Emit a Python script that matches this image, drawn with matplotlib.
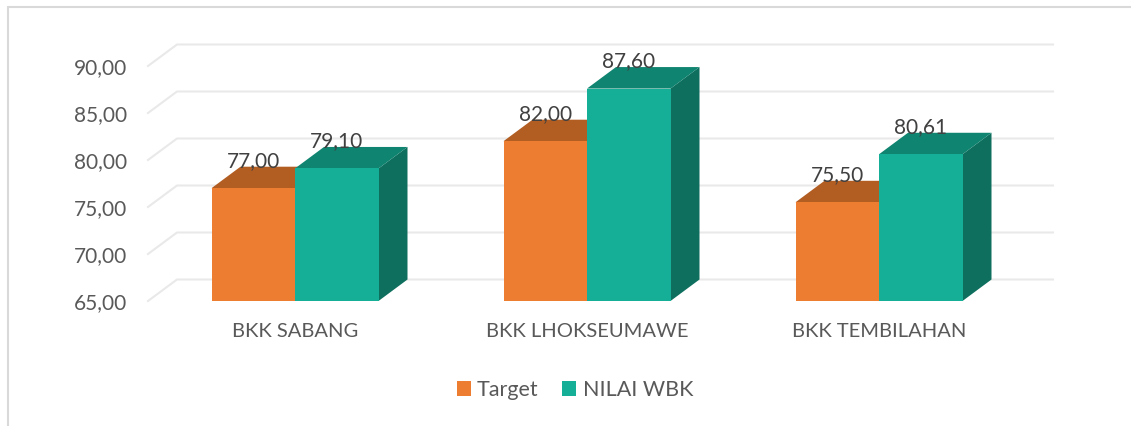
import matplotlib
matplotlib.use("Agg")
from matplotlib import pyplot as plt
import matplotlib.patches as patches

plt.rcParams['font.family'] = ['Lato', 'DejaVu Sans']

categories = ["BKK SABANG", "BKK LHOKSEUMAWE", "BKK TEMBILAHAN"]
series_names = ["Target", "NILAI WBK"]
target = [77.00, 82.00, 75.50]
nilai_wbk = [79.10, 87.60, 80.61]
yticks = [65, 70, 75, 80, 85, 90]

front_cols = ["#ED7D31", "#15AE96"]
top_cols = ["#B25D22", "#0F8470"]
side_cols = ["#B25D22", "#0E6F5E"]

W, H = 1131, 426
fig = plt.figure(figsize=(W / 100, H / 100), dpi=100)

# axes placed so that the front plane matches the reference
px_unit = 292.0   # pixels per category step
py_unit = 9.4     # pixels per value unit
left_px, right_px, bottom_px, top_px = 148, 1060, 301, 40
ax = fig.add_axes([left_px / W, (H - bottom_px) / H,
                   (right_px - left_px) / W, (bottom_px - top_px) / H])
x_lo = (left_px - 295) / px_unit
x_hi = (right_px - 295) / px_unit
y_lo = 65
y_hi = 65 + (bottom_px - top_px) / py_unit
ax.set_xlim(x_lo, x_hi)
ax.set_ylim(y_lo, y_hi)

dx = 29 / px_unit      # depth offset
dy = 21.5 / py_unit
bw = 83.5 / px_unit    # bar width

grid_c = "#E9E9E9"
back_right = (1053 - 295) / px_unit
for v in yticks:
    ax.plot([x_lo, x_lo + dx, back_right], [v, v + dy, v + dy],
            color=grid_c, lw=1.5, clip_on=False, zorder=0)

base = 65
for i in range(len(categories)):
    for j, vals in enumerate([target, nilai_wbk]):
        v = vals[i]
        x0 = i - bw + j * bw
        x1 = x0 + bw
        side = patches.Polygon([(x1, base), (x1 + dx, base + dy), (x1 + dx, v + dy), (x1, v)],
                               closed=True, fc=side_cols[j], ec='none', clip_on=False, zorder=2)
        top = patches.Polygon([(x0, v), (x0 + dx, v + dy), (x1 + dx, v + dy), (x1, v)],
                              closed=True, fc=top_cols[j], ec='none', clip_on=False, zorder=2)
        front = patches.Rectangle((x0, base), bw, v - base, fc=front_cols[j], ec='none',
                                  clip_on=False, zorder=2)
        ax.add_patch(side)
        ax.add_patch(top)
        ax.add_patch(front)
        ax.annotate(f"{v:.2f}".replace(".", ","), (x0 + bw / 2, v), xytext=(0, 19.5),
                    textcoords='offset points', ha='center', va='center',
                    fontsize=15, color="#404040", zorder=5)

ax.set_yticks(yticks)
ax.set_yticklabels([f"{t:.2f}".replace(".", ",") for t in yticks])
ax.set_xticks(range(len(categories)))
ax.set_xticklabels(categories)
ax.tick_params(axis='y', length=0, pad=15, labelsize=15, labelcolor="#595959")
ax.tick_params(axis='x', length=0, pad=16, labelsize=14.5, labelcolor="#595959")
for s in ax.spines.values():
    s.set_visible(False)
ax.patch.set_alpha(0)

handles = [patches.Patch(fc=front_cols[k], ec='none', label=series_names[k]) for k in range(2)]
fig.legend(handles=handles, loc='center', bbox_to_anchor=(575 / W, 1 - 390 / H), ncol=2,
           frameon=False, fontsize=15.5, handlelength=0.65, handleheight=0.65,
           handletextpad=0.3, columnspacing=1.1, labelcolor="#595959")

fig.patches.append(patches.Rectangle((8 / W, -0.01), 1.0, 1 - 7 / H + 0.01, transform=fig.transFigure,
                                     fill=False, ec="#D9D9D9", lw=1.5))

fig.savefig("out.png", dpi=100)
